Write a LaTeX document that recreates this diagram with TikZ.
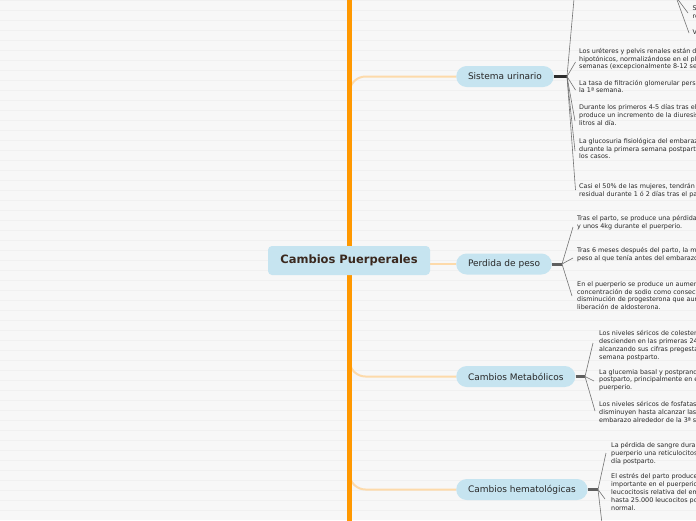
\documentclass[tikz,border=0pt]{standalone}
\usepackage{fontspec}
\setmainfont{DejaVu Sans}
\definecolor{bgcol}{RGB}{247,247,247}
\definecolor{bgline}{RGB}{240,240,240}
\definecolor{nodeblue}{RGB}{198,228,240}
\definecolor{connor}{RGB}{253,218,170}
\definecolor{trunkor}{RGB}{255,152,0}
\definecolor{stemgray}{RGB}{95,95,95}
\definecolor{stemdark}{RGB}{45,45,45}
\definecolor{twiggray}{RGB}{115,115,115}
\definecolor{roottxt}{RGB}{58,40,30}
\definecolor{txt}{RGB}{40,40,40}
\begin{document}
\begin{tikzpicture}[x=1pt,y=-1pt,
  rootbox/.style={fill=nodeblue, rounded corners=4pt, minimum width=162pt, minimum height=29pt, inner sep=0pt, font=\fontsize{11.5}{13}\selectfont\bfseries, text=roottxt},
  branch/.style={fill=nodeblue, rounded corners=10.5pt, minimum height=21pt, inner xsep=11.8pt, inner ysep=0pt, font=\fontsize{9}{11}\selectfont, text=txt, anchor=west},
  leaf/.style={anchor=north west, inner sep=0pt, align=left, font=\fontsize{6.4}{7.8}\selectfont, text=txt, execute at begin node=\strut},
  conn/.style={draw=connor, line width=2pt},
  stem/.style={draw=stemgray, line width=3pt},
  twig/.style={draw=twiggray, line width=0.6pt}]
\useasboundingbox (0,0) rectangle (696,520);
\clip (0,0) rectangle (696,520);
\fill[bgcol] (0,0) rectangle (696,520);
\foreach \k in {0,...,51} \draw[bgline, line width=0.8pt] (0,\k*10+0.5) -- (696,\k*10+0.5);

% nodes
\node[branch] (su) at (456,76.5) {Sistema urinario};
\node[branch] (pp) at (456,264) {Perdida de peso};
\node[branch] (cm) at (456,376.5) {Cambios Metabólicos};
\node[branch] (ch) at (456,489.5) {Cambios hematológicas};

% trunk anchors
\coordinate (t1) at (349.5,130);
\coordinate (t2) at (349.5,264);
\coordinate (t3) at (349.5,320);
\coordinate (t4) at (349.5,430);
\draw[conn, rounded corners=16pt] (t1) |- (su.west);
\draw[conn] (t2) -- (pp.west);
\draw[conn, rounded corners=16pt] (t3) |- (cm.west);
\draw[conn, rounded corners=16pt] (t4) |- (ch.west);

% orange trunk
\coordinate (ttop) at (349.5,-2);
\coordinate (tbot) at (349.5,522);
\draw[trunkor, line width=5pt] (ttop) -- (tbot);

\node[rootbox] (root) at (349,260.5) {Cambios Puerperales};

% leaves: Sistema urinario
\node[leaf] (sua) at (579,48) {Los uréteres y pelvis renales están dilatados e\\hipotónicos, normalizándose en el plazo de 2-8\\semanas (excepcionalmente 8-12 semanas).};
\node[leaf] (sub) at (579,79.8) {La tasa de filtración glomerular persiste elevada durante\\la 1ª semana.};
\node[leaf] (suc) at (579,104.3) {Durante los primeros 4-5 días tras el parto, se\\produce un incremento de la diuresis de hasta 3\\litros al día.};
\node[leaf] (sud) at (579,138) {La glucosuria fisiológica del embarazo desaparece\\durante la primera semana postparto en la mayoría de\\los casos.};
\node[leaf] (sue) at (579,183) {Casi el 50\% de las mujeres, tendrán proteinuria\\residual durante 1 ó 2 días tras el parto.};
\node[leaf] (sutx) at (692.5,5.3) {Se produce\\retención};
\node[leaf] (suty) at (692.5,29.3) {Vejiga};

% leaves: Perdida de peso
\node[leaf] (ppa) at (577,215.6) {Tras el parto, se produce una pérdida de peso de 5-6kg\\y unos 4kg durante el puerperio.};
\node[leaf] (ppb) at (577,247) {Tras 6 meses después del parto, la mujer recupera el\\peso al que tenía antes del embarazo.};
\node[leaf] (ppc) at (577,281.3) {En el puerperio se produce un aumento de la\\concentración de sodio como consecuencia de la\\disminución de progesterona que aumenta la\\liberación de aldosterona.};

% leaves: Cambios Metabólicos
\node[leaf] (cma) at (599,330.3) {Los niveles séricos de colesterol y triglicéridos\\descienden en las primeras 24h postparto,\\alcanzando sus cifras pregestacionales hacia la 7ª\\semana postparto.};
\node[leaf] (cmb) at (599,369) {La glucemia basal y postprandial descienden\\postparto, principalmente en el primer día del\\puerperio.};
\node[leaf] (cmc) at (599,401.3) {Los niveles séricos de fosfatasa alcalina\\disminuyen hasta alcanzar las cifras previas al\\embarazo alrededor de la 3ª semana.};

% leaves: Cambios hematológicas
\node[leaf] (cha) at (611,442.3) {La pérdida de sangre durante el parto produce en el\\puerperio una reticulocitosis hacia el 4º-7º\\día postparto.};
\node[leaf] (chb) at (611,473.6) {El estrés del parto produce una leucocitosis\\importante en el puerperio, aunque existe una\\leucocitosis relativa del embarazo, pudiendo llegar\\hasta 25.000 leucocitos por mm3, considerándose\\normal.};

% junctions
\coordinate (j1) at (567,76.5);
\coordinate (j2) at (562,264);
\coordinate (j3) at (585,376.5);
\coordinate (j4) at (598,489.5);
\coordinate (j5) at (676,-3);
\draw[stem, draw=stemdark] (su.east) -- (j1);
\draw[stem] (pp.east) -- (j2);
\draw[stem] (cm.east) -- (j3);
\draw[stem] (ch.east) -- (j4);

% twig ends
\coordinate (e1u) at (575,-12);
\coordinate (e1a) at (575.5,62);
\coordinate (e1b) at (575.5,90);
\coordinate (e1c) at (575,121);
\coordinate (e1d) at (575,151);
\coordinate (e1e) at (575.5,190);
\coordinate (e5a) at (688,13);
\coordinate (e5b) at (689,33);
\coordinate (e2a) at (573,227);
\coordinate (e2b) at (573,258);
\coordinate (e2c) at (572,296);
\coordinate (e3a) at (593,343);
\coordinate (e3b) at (594,381);
\coordinate (e3c) at (595,411);
\coordinate (e4a) at (606,453);
\coordinate (e4b) at (605,499);
\coordinate (e4c) at (603,532);

\foreach \e in {e1u,e1a,e1b,e1c,e1d,e1e} \draw[twig] (j1) -- (\e);
\foreach \e in {e5a,e5b} \draw[twig] (j5) -- (\e);
\foreach \e in {e2a,e2b,e2c} \draw[twig] (j2) -- (\e);
\foreach \e in {e3a,e3b,e3c} \draw[twig] (j3) -- (\e);
\foreach \e in {e4a,e4b,e4c} \draw[twig] (j4) -- (\e);
\end{tikzpicture}
\end{document}
